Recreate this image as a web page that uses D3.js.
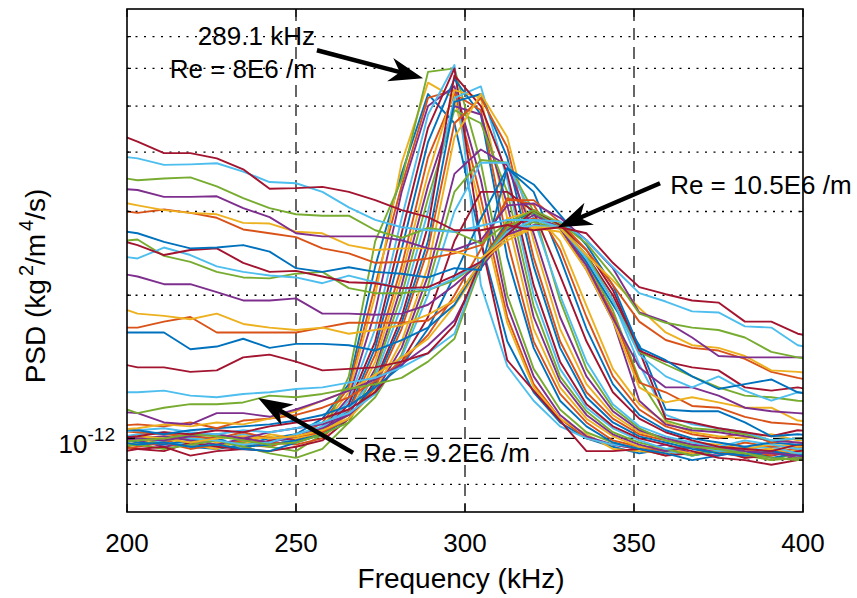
<!DOCTYPE html>
<html>
<head>
<meta charset="utf-8">
<script src="https://d3js.org/d3.v7.min.js"></script>
<style>
  body { margin: 0; background: #fff; }
  svg { display: block; font-family: "Liberation Sans", Arial, Helvetica, sans-serif; }
</style>
</head>
<body>
<svg id="chart" width="857" height="598"></svg>
<script>
// FFT bins (kHz)
const freq = [195.3125, 203.125, 210.9375, 218.75, 226.5625, 234.375, 242.1875, 250, 257.8125, 265.625,
  273.4375, 281.25, 289.0625, 296.875, 304.6875, 312.5, 320.3125, 328.125, 335.9375, 343.75,
  351.5625, 359.375, 367.1875, 375, 382.8125, 390.625, 398.4375, 406.25];

const unit = 1e-12; // PSD values below are in units of 1e-12 kg^2/m^4/s

// one spectrum per unit Reynolds number, from Re = 8E6 /m up to 10.5E6 /m
const psd00 = [0.98,0.97,0.99,0.96,0.95,0.97,1.00,1.02,1.10,1.30,2.30,3.60,5.30,4.60,2.60,1.60,1.25,1.08,1.00,0.96,0.93,0.95,0.92,0.94,0.96,0.93,0.95,0.94];
const psd01 = [1.02,1.00,0.98,1.01,0.99,0.97,0.96,1.00,1.08,1.28,2.10,3.40,5.20,5.40,3.20,1.80,1.30,1.10,1.00,0.97,0.95,0.92,0.96,0.94,0.91,0.93,0.95,0.96];
const psd02 = [0.96,0.98,1.00,0.97,0.95,0.99,1.01,0.98,1.06,1.25,2.00,3.80,5.60,5.20,3.00,1.75,1.28,1.10,1.02,0.95,0.94,0.93,0.97,0.95,0.92,0.96,0.94,0.93];
const psd03 = [1.00,0.99,0.96,0.98,1.01,1.00,0.97,0.99,1.05,1.22,1.85,3.30,5.00,5.50,3.50,1.90,1.35,1.12,1.01,0.97,0.95,0.97,0.93,0.92,0.95,0.94,0.90,0.92];
const psd04 = [0.95,0.97,0.99,1.00,0.97,0.98,0.96,0.94,1.02,1.35,2.60,3.50,5.90,6.00,3.80,2.00,1.40,1.15,1.03,0.98,0.95,0.94,0.96,0.93,0.92,0.90,0.93,0.94];
const psd05 = [0.99,1.01,0.98,0.97,0.99,1.02,1.00,0.98,1.04,1.20,1.70,2.90,4.80,6.10,2.10,1.42,1.20,1.06,1.00,0.97,0.96,0.94,0.92,0.95,0.93,0.94,0.92,0.93];
const psd06 = [0.97,0.95,0.94,0.98,0.96,0.95,0.99,1.00,1.03,1.18,1.60,2.70,4.50,6.00,2.60,1.46,1.26,1.09,0.94,0.94,0.95,0.92,0.93,0.95,0.91,0.92,0.94,0.95];
const psd07 = [1.01,0.98,0.97,0.99,1.00,0.96,0.97,0.99,1.02,1.15,1.55,2.50,4.20,5.70,4.80,2.40,1.55,1.20,1.06,0.98,0.95,0.93,0.90,0.92,0.94,0.91,0.93,0.92];
const psd08 = [0.94,0.96,0.98,0.95,0.97,0.99,0.98,0.97,1.00,1.14,1.50,2.30,3.90,5.30,4.90,2.60,1.60,1.24,1.08,0.99,0.96,0.94,0.97,0.93,0.95,0.92,0.96,0.94];
const psd09 = [1.03,1.00,0.99,1.01,0.98,0.97,1.02,1.00,1.03,1.12,1.45,2.20,3.60,5.40,5.20,2.90,1.70,1.28,1.10,1.01,0.96,0.95,0.93,0.96,0.94,0.95,0.93,0.95];
const psd10 = [0.98,1.00,1.01,0.99,0.97,1.00,0.98,1.01,1.05,1.12,1.40,2.10,3.40,5.00,4.80,3.10,1.80,1.32,1.12,1.02,0.97,0.94,0.96,0.93,0.92,0.94,0.91,0.90];
const psd11 = [0.96,0.97,0.95,0.97,0.99,0.96,0.93,0.91,0.95,1.08,1.38,2.00,3.20,4.90,4.60,3.30,1.90,1.35,1.14,1.03,0.98,0.95,0.92,0.94,0.93,0.90,0.91,0.93];
const psd12 = [1.00,1.02,1.03,1.00,0.99,0.97,0.98,1.02,1.06,1.15,1.35,1.90,3.00,5.20,5.50,3.50,2.00,1.40,1.16,1.05,0.99,0.95,0.97,0.94,0.95,0.96,0.93,0.94];
const psd13 = [0.93,0.95,0.96,0.92,0.94,0.95,0.94,0.96,0.99,1.10,1.32,1.80,2.80,5.80,5.00,3.60,2.10,1.45,1.18,1.06,1.00,0.97,0.94,0.91,0.90,0.88,0.90,0.91];
const psd14 = [0.99,0.97,0.98,0.96,0.97,0.95,0.94,0.98,1.02,1.10,1.30,1.75,2.60,5.10,5.30,3.90,2.30,1.55,1.22,1.08,1.01,0.98,0.95,0.93,0.92,0.94,0.92,0.93];
const psd15 = [1.04,1.03,1.02,1.01,1.00,1.03,1.00,1.01,1.03,1.10,1.28,1.70,2.50,4.60,5.20,4.10,2.40,1.60,1.25,1.10,1.02,0.99,0.97,0.95,0.98,0.96,0.97,0.95];
const psd16 = [0.99,1.01,1.00,0.98,1.00,1.01,1.00,1.01,1.04,1.10,1.26,1.60,2.30,4.30,5.30,4.30,2.60,1.70,1.30,1.12,1.03,1.00,0.98,0.97,0.95,0.97,0.96,0.98];
const psd17 = [1.02,1.00,0.99,1.01,1.02,1.00,1.03,1.05,1.07,1.12,1.25,1.55,2.20,3.60,4.05,3.75,2.70,1.80,1.35,1.14,1.04,1.00,0.97,0.96,0.94,0.93,0.92,0.90];
const psd18 = [0.98,0.99,1.00,1.02,1.01,0.99,0.97,0.98,1.02,1.08,1.22,1.50,2.10,3.30,3.85,3.80,3.00,1.95,1.40,1.16,1.05,0.99,0.96,0.95,0.93,0.91,0.90,0.92];
const psd19 = [1.03,1.04,1.05,1.03,1.02,1.04,1.03,1.05,1.08,1.13,1.24,1.48,2.00,3.00,3.80,3.80,2.90,2.00,1.45,1.18,1.06,1.01,0.98,0.96,0.99,0.97,0.95,0.96];
const psd20 = [1.00,1.01,1.03,1.02,1.04,1.03,1.06,1.08,1.10,1.15,1.25,1.45,1.80,2.60,3.30,3.30,3.00,2.20,1.60,1.25,1.10,1.03,0.99,0.96,0.95,0.94,0.97,0.96];
const psd21 = [1.05,1.04,1.02,1.04,1.05,1.06,1.07,1.09,1.12,1.17,1.28,1.42,1.70,2.20,2.90,3.70,3.30,2.40,1.70,1.30,1.12,1.04,1.00,0.98,0.96,0.98,0.97,0.99];
const psd22 = [1.06,1.07,1.06,1.08,1.05,1.09,1.10,1.12,1.16,1.22,1.32,1.45,1.65,2.00,2.50,3.20,3.10,2.50,1.80,1.35,1.15,1.06,1.02,1.00,1.03,0.98,1.00,1.01];
const psd23 = [1.04,1.05,1.07,1.06,1.08,1.07,1.10,1.14,1.20,1.26,1.36,1.48,1.62,1.90,2.30,2.90,3.00,2.60,1.90,1.40,1.18,1.08,1.03,1.01,1.00,1.02,0.99,1.00];
const psd24 = [1.14,1.13,1.08,1.07,1.13,1.13,1.11,1.15,1.20,1.26,1.33,1.43,1.57,1.77,2.28,2.68,2.81,2.77,2.26,1.77,1.20,1.07,1.04,1.03,1.01,0.99,0.98,0.97];
const psd25 = [1.18,1.13,1.16,1.18,1.18,1.19,1.23,1.22,1.24,1.27,1.30,1.34,1.45,1.62,2.31,2.72,2.85,2.76,2.35,1.86,1.33,1.09,1.05,1.04,1.02,0.99,1.00,0.99];
const psd26 = [1.25,1.25,1.26,1.23,1.22,1.24,1.25,1.27,1.28,1.31,1.34,1.41,1.51,1.66,2.35,2.77,2.80,2.78,2.39,1.95,1.43,1.12,1.07,1.05,1.03,0.99,1.00,0.99];
const psd27 = [1.45,1.41,1.41,1.38,1.39,1.48,1.50,1.45,1.39,1.40,1.41,1.45,1.51,1.73,2.35,2.81,2.88,2.80,2.43,2.00,1.53,1.10,1.08,1.05,1.03,1.01,1.04,1.03];
const psd28 = [1.67,1.67,1.67,1.54,1.56,1.62,1.55,1.58,1.58,1.57,1.53,1.61,1.71,1.91,2.35,2.85,2.98,2.81,2.35,1.91,1.57,1.15,1.14,1.14,1.08,1.01,1.02,1.01];
const psd29 = [1.71,1.71,1.76,1.80,1.67,1.67,1.67,1.67,1.71,1.75,1.75,1.75,1.77,1.95,2.35,2.81,2.90,2.78,2.31,1.82,1.31,1.25,1.17,1.16,1.11,1.08,1.07,1.05];
const psd30 = [1.91,1.83,1.81,1.78,1.83,1.74,1.71,1.69,1.71,1.66,1.69,1.73,1.82,1.95,2.35,2.61,2.77,2.72,2.26,1.77,1.28,1.19,1.22,1.19,1.16,1.16,1.09,1.08];
const psd31 = [2.24,2.19,2.11,2.11,2.03,1.95,1.95,1.97,1.83,1.83,1.82,1.83,1.91,2.10,2.35,2.74,2.95,2.77,2.31,1.79,1.41,1.28,1.28,1.23,1.16,1.14,1.13,1.12];
const psd32 = [2.59,2.62,2.42,2.35,2.24,2.18,2.17,2.22,2.24,2.07,2.02,2.02,2.05,2.15,2.35,2.77,2.99,2.80,2.43,1.95,1.52,1.43,1.35,1.28,1.23,1.22,1.20,1.19];
const psd33 = [2.43,2.39,2.52,2.43,2.30,2.24,2.20,2.18,2.12,2.20,2.13,2.07,2.05,2.17,2.35,2.72,2.88,2.78,2.39,1.95,1.50,1.35,1.28,1.35,1.26,1.20,1.25,1.23];
const psd34 = [2.64,2.55,2.43,2.49,2.51,2.34,2.24,2.25,2.19,2.13,2.12,2.07,2.08,2.20,2.35,2.68,3.02,2.81,2.49,2.05,1.53,1.45,1.41,1.39,1.28,1.26,1.28,1.25];
const psd35 = [2.75,2.70,2.59,2.51,2.52,2.55,2.47,2.28,2.24,2.29,2.24,2.22,2.18,2.28,2.26,3.70,3.42,2.95,2.55,2.10,1.55,1.46,1.35,1.27,1.30,1.33,1.25,1.23];
const psd36 = [3.03,2.98,3.03,2.98,2.91,2.75,2.70,2.65,2.51,2.45,2.34,2.35,2.39,2.45,2.55,3.17,3.17,2.85,2.49,2.10,1.76,1.61,1.55,1.53,1.47,1.38,1.34,1.31];
const psd37 = [3.17,3.09,3.02,2.98,2.96,2.84,2.83,2.72,2.70,2.55,2.49,2.51,2.51,2.47,2.39,2.65,2.78,2.77,2.43,2.15,1.88,1.67,1.57,1.55,1.49,1.39,1.38,1.36];
const psd38 = [3.36,3.33,3.22,3.22,3.23,3.05,2.92,2.70,2.66,2.66,2.66,2.61,2.51,2.49,2.61,3.09,3.12,2.91,2.61,2.28,1.84,1.76,1.63,1.49,1.48,1.48,1.48,1.48];
const psd39 = [3.56,3.49,3.52,3.54,3.39,3.20,3.05,2.96,2.94,2.94,2.74,2.64,2.77,2.72,2.57,2.84,3.02,2.84,2.57,2.20,1.83,1.75,1.71,1.69,1.63,1.52,1.48,1.45];
const psd40 = [3.94,3.88,3.76,3.77,3.79,3.64,3.46,3.44,3.30,3.06,2.88,2.78,2.74,2.72,2.80,2.88,2.88,2.86,2.61,2.29,2.02,1.94,1.85,1.84,1.72,1.71,1.57,1.53];
const psd41 = [4.42,4.21,3.98,3.98,3.88,3.68,3.35,3.36,3.38,3.30,3.17,3.02,2.92,2.74,2.74,2.81,2.74,2.78,2.70,2.34,2.08,2.01,1.95,1.93,1.76,1.76,1.66,1.62];

const spectra = [psd00,psd01,psd02,psd03,psd04,psd05,psd06,psd07,psd08,psd09,psd10,psd11,psd12,psd13,
  psd14,psd15,psd16,psd17,psd18,psd19,psd20,psd21,psd22,psd23,psd24,psd25,psd26,psd27,
  psd28,psd29,psd30,psd31,psd32,psd33,psd34,psd35,psd36,psd37,psd38,psd39,psd40,psd41];

const colorOrder = ["#0072BD","#D95319","#EDB120","#7E2F8E","#77AC30","#4DBEEE","#A2142F"];
const xTicks = [200, 250, 300, 350, 400];
const yMajor = [1];
const yMinor = [0.8, 0.9, 2, 3, 4, 5, 6, 7];

// annotations: text anchor (kHz, PSD/unit), arrow tail and head
const notes = [
  {lines: ["289.1 kHz", "Re = 8E6 /m"], f: 255.6, v: [6.72, 5.72], from: [256.2, 6.55], to: [287.6, 5.72], anchor: "end"},
  {lines: ["Re = 10.5E6 /m"], f: 360.7, v: [3.26], from: [357.7, 3.44], to: [327.5, 2.78], anchor: "start"},
  {lines: ["Re = 9.2E6 /m"], f: 269.8, v: [0.893], from: [266.9, 0.932], to: [238.8, 1.216], anchor: "start"}
];

const W = 857, H = 598;
const margin = {top: 9, right: 54, bottom: 86, left: 127};
const svg = d3.select("#chart");

const x = d3.scaleLinear().domain([200, 400]).range([margin.left, W - margin.right]);
const y = d3.scaleLog().domain([0.7 * unit, 8 * unit]).range([H - margin.bottom, margin.top]);

svg.append("defs").append("clipPath").attr("id", "plotclip")
  .append("rect")
  .attr("x", margin.left).attr("y", margin.top)
  .attr("width", W - margin.left - margin.right)
  .attr("height", H - margin.top - margin.bottom);

// grid
const grid = svg.append("g");
grid.selectAll(".vgrid").data(xTicks.slice(1, -1)).enter().append("line")
  .attr("x1", d => x(d)).attr("x2", d => x(d))
  .attr("y1", margin.top).attr("y2", H - margin.bottom)
  .attr("stroke", "#000").attr("stroke-width", 1.2).attr("stroke-dasharray", "12,7");
grid.selectAll(".hmajor").data(yMajor).enter().append("line")
  .attr("x1", margin.left).attr("x2", W - margin.right)
  .attr("y1", d => y(d * unit)).attr("y2", d => y(d * unit))
  .attr("stroke", "#000").attr("stroke-width", 1.2).attr("stroke-dasharray", "12,7");
grid.selectAll(".hminor").data(yMinor).enter().append("line")
  .attr("x1", margin.left).attr("x2", W - margin.right)
  .attr("y1", d => y(d * unit)).attr("y2", d => y(d * unit))
  .attr("stroke", "#000").attr("stroke-width", 1.3).attr("stroke-dasharray", "2,6.5");

// spectra
const line = d3.line()
  .x((d, i) => x(freq[i]))
  .y(d => y(d * unit));

svg.append("g").attr("clip-path", "url(#plotclip)")
  .selectAll("path").data(spectra).enter().append("path")
  .attr("d", line)
  .attr("fill", "none")
  .attr("stroke", (d, i) => colorOrder[i % colorOrder.length])
  .attr("stroke-width", 1.9)
  .attr("stroke-linejoin", "round");

// box + ticks
const axes = svg.append("g");
axes.append("rect")
  .attr("x", margin.left).attr("y", margin.top)
  .attr("width", W - margin.left - margin.right)
  .attr("height", H - margin.top - margin.bottom)
  .attr("fill", "none").attr("stroke", "#000").attr("stroke-width", 1.6);

xTicks.forEach(t => {
  axes.append("line").attr("x1", x(t)).attr("x2", x(t))
    .attr("y1", H - margin.bottom).attr("y2", H - margin.bottom - 8).attr("stroke", "#000").attr("stroke-width", 1.2);
  axes.append("line").attr("x1", x(t)).attr("x2", x(t))
    .attr("y1", margin.top).attr("y2", margin.top + 8).attr("stroke", "#000").attr("stroke-width", 1.2);
});
yMajor.concat(yMinor).forEach(t => {
  const len = yMajor.includes(t) ? 8 : 4;
  axes.append("line").attr("x1", margin.left).attr("x2", margin.left + len)
    .attr("y1", y(t * unit)).attr("y2", y(t * unit)).attr("stroke", "#000").attr("stroke-width", 1.2);
  axes.append("line").attr("x1", W - margin.right).attr("x2", W - margin.right - len)
    .attr("y1", y(t * unit)).attr("y2", y(t * unit)).attr("stroke", "#000").attr("stroke-width", 1.2);
});

// tick labels
axes.selectAll(".xl").data(xTicks).enter().append("text")
  .attr("x", d => x(d)).attr("y", H - margin.bottom + 40)
  .attr("text-anchor", "middle").attr("font-size", 26).text(d => d);

yMajor.forEach(t => {
  const tl = axes.append("text").attr("x", margin.left - 12).attr("y", y(t * unit) + 15)
    .attr("text-anchor", "end").attr("font-size", 26);
  tl.append("tspan").text("10");
  tl.append("tspan").attr("dy", -12).attr("font-size", 19).text("-12");
});

// axis titles
svg.append("text").attr("x", 461).attr("y", H - 10)
  .attr("text-anchor", "middle").attr("font-size", 28).text("Frequency (kHz)");

const yl = svg.append("text")
  .attr("transform", "translate(45, 286) rotate(-90)")
  .attr("text-anchor", "middle").attr("font-size", 28);
yl.append("tspan").text("PSD (kg");
yl.append("tspan").attr("dy", -12).attr("dx", 3).attr("font-size", 20).text("2");
yl.append("tspan").attr("dy", 12).text("/m");
yl.append("tspan").attr("dy", -12).attr("dx", 3).attr("font-size", 20).text("4");
yl.append("tspan").attr("dy", 12).text("/s)");

// annotations
const ann = svg.append("g");
function arrow(from, to) {
  const x0 = x(from[0]), y0 = y(from[1] * unit), x1 = x(to[0]), y1 = y(to[1] * unit);
  const a = Math.atan2(y1 - y0, x1 - x0);
  const L = 34, Wd = 12, N = 10;
  const pt = (dx, dy) => [x1 + dx * Math.cos(a) - dy * Math.sin(a), y1 + dx * Math.sin(a) + dy * Math.cos(a)];
  const head = [pt(0, 0), pt(-L, -Wd), pt(-L + N, 0), pt(-L, Wd)];
  const neck = pt(-L + N + 2, 0);
  ann.append("line").attr("x1", x0).attr("y1", y0).attr("x2", neck[0]).attr("y2", neck[1])
    .attr("stroke", "#000").attr("stroke-width", 4.5);
  ann.append("path").attr("d", "M" + head.join("L") + "Z").attr("fill", "#000");
}
notes.forEach(n => {
  n.lines.forEach((s, k) => {
    ann.append("text").attr("x", x(n.f)).attr("y", y(n.v[k] * unit))
      .attr("text-anchor", n.anchor).attr("font-size", 26).text(s);
  });
  arrow(n.from, n.to);
});
</script>
</body>
</html>
